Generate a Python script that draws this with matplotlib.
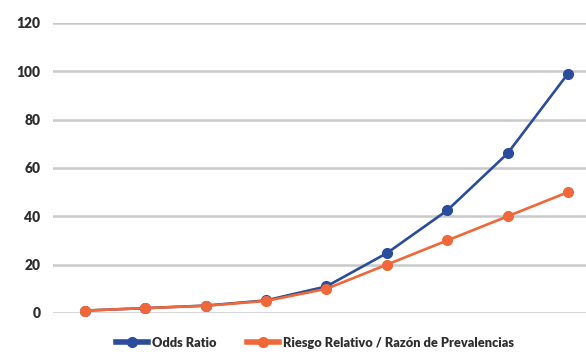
import matplotlib
matplotlib.use("Agg")
import matplotlib.pyplot as plt

# Association measure by exposure level (baseline risk 1%)
levels = list(range(9))
riesgo_relativo = [1, 2, 3, 5, 10, 20, 30, 40, 50]
odds_ratio = [1, 2.02, 3.06, 5.21, 11, 24.75, 42.43, 66, 99]
y_ticks = [0, 20, 40, 60, 80, 100, 120]

blue = "#2b4c9c"
orange = "#f0673a"
grid = "#c9c9c9"
text = "#2e2e2e"

plt.rcParams["font.family"] = ["Lato", "DejaVu Sans"]

fig = plt.figure(figsize=(5.86, 3.52), dpi=100)
ax = fig.add_axes([0.0904, 0.1108, 0.9096, 0.8239])

ax.plot(levels, odds_ratio, color=blue, lw=1.9, marker="o", ms=7,
        label="Odds Ratio", clip_on=False, zorder=3)
ax.plot(levels, riesgo_relativo, color=orange, lw=1.9, marker="o", ms=7,
        label="Riesgo Relativo / Razón de Prevalencias", clip_on=False, zorder=4)

ax.set_ylim(0, 120)
ax.set_xlim(-0.53, 8.3)
ax.set_yticks(y_ticks)
ax.set_xticks([])
ax.yaxis.grid(True, color=grid, lw=1.8)
ax.set_axisbelow(True)
for s in ax.spines.values():
    s.set_visible(False)
ax.tick_params(axis="y", length=0, pad=9, labelsize=10, labelcolor=text)
for lab in ax.get_yticklabels():
    lab.set_fontweight("heavy")

leg = fig.legend(loc="center", bbox_to_anchor=(0.537, 0.026), ncol=2,
                 frameon=False, handlelength=2.5, handletextpad=0.3,
                 columnspacing=2.4, prop={"weight": "heavy", "size": 9.2})
for t in leg.get_texts():
    t.set_color(text)
for h in leg.legend_handles:
    h.set_linewidth(4)

fig.savefig("out.png", dpi=100)
